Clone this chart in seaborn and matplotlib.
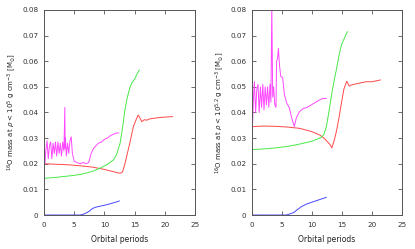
import matplotlib
matplotlib.use("Agg")
import matplotlib.pyplot as plt
import seaborn as sns
import numpy as np

# ---------------- data ----------------
L_red_x = [0, 2, 4, 6, 8, 10, 11, 12, 12.6, 13, 13.4, 13.8, 14.2, 14.8, 15.3, 15.6, 15.9, 16.2, 16.6, 17, 17.5, 18, 19, 20, 21.3]
L_red_y = [0.0200, 0.0198, 0.0196, 0.0192, 0.0187, 0.0178, 0.0172, 0.0166, 0.0163, 0.0168, 0.0200, 0.0240, 0.0280, 0.0345, 0.0375, 0.0390, 0.0378, 0.0364, 0.0372, 0.0370, 0.0375, 0.0377, 0.0380, 0.0382, 0.0384]

L_green_x = [0, 2, 4, 6, 8, 9.3, 10.5, 11.5, 12, 12.6, 13, 13.4, 13.8, 14.2, 14.5, 15, 15.4, 15.8]
L_green_y = [0.0143, 0.0147, 0.0152, 0.0158, 0.0170, 0.0183, 0.0198, 0.0215, 0.0235, 0.0280, 0.0340, 0.0410, 0.0460, 0.0495, 0.0514, 0.0530, 0.0550, 0.0566]

L_mag_x = [0, 0.15, 0.3, 0.5, 0.7, 0.9, 1.1, 1.3, 1.5, 1.7, 1.9, 2.1, 2.3, 2.5, 2.7, 2.9, 3.1, 3.3, 3.45, 3.5, 3.55, 3.7, 3.9, 4.1, 4.3, 4.5, 4.7, 5.0, 5.4, 6.0, 6.5, 7.0, 7.4, 7.8, 8.2, 8.6, 9.0, 9.5, 10.0, 10.5, 11.0, 11.5, 12.0, 12.4]
L_mag_y = [0.026, 0.020, 0.025, 0.029, 0.022, 0.027, 0.0285, 0.022, 0.028, 0.024, 0.0285, 0.023, 0.0285, 0.024, 0.028, 0.023, 0.0285, 0.025, 0.042, 0.026, 0.030, 0.023, 0.028, 0.024, 0.029, 0.0305, 0.024, 0.021, 0.0205, 0.0200, 0.0205, 0.0200, 0.0205, 0.024, 0.026, 0.027, 0.028, 0.0285, 0.0295, 0.030, 0.031, 0.0315, 0.032, 0.032]

L_blue_x = [0, 2, 4, 6, 6.5, 7, 7.5, 8, 8.5, 9, 10, 11, 12, 12.5]
L_blue_y = [0, 0, 0, 0, 0.0003, 0.0008, 0.0015, 0.0025, 0.0030, 0.0033, 0.0038, 0.0044, 0.0051, 0.0055]

R_red_x = [0, 2, 4, 6, 8, 10, 11.3, 12, 12.6, 13.0, 13.3, 13.5, 13.8, 14.1, 14.5, 14.9, 15.3, 15.6, 15.8, 16.0, 16.2, 16.6, 17, 18, 19, 20, 21.4]
R_red_y = [0.0345, 0.0347, 0.0346, 0.0343, 0.0338, 0.0325, 0.0312, 0.0300, 0.0285, 0.0275, 0.0262, 0.0275, 0.0300, 0.0330, 0.0380, 0.0436, 0.0490, 0.0510, 0.0522, 0.0512, 0.0503, 0.0508, 0.0510, 0.0515, 0.0520, 0.0520, 0.0527]

R_green_x = [0, 2, 4, 6, 8, 10, 11.5, 12.0, 12.4, 12.8, 13.2, 13.6, 14.0, 14.4, 14.7, 15.0, 15.4, 15.9]
R_green_y = [0.0255, 0.0258, 0.0262, 0.0268, 0.0277, 0.0288, 0.0302, 0.0315, 0.0345, 0.0400, 0.0460, 0.0514, 0.0560, 0.0610, 0.0644, 0.0670, 0.0690, 0.0716]

R_mag_x = [0, 0.1, 0.25, 0.4, 0.6, 0.8, 1.0, 1.2, 1.4, 1.6, 1.8, 2.0, 2.2, 2.4, 2.6, 2.8, 3.0, 3.15, 3.3, 3.45, 3.6, 3.8, 4.0, 4.1, 4.25, 4.4, 4.6, 4.8, 5.1, 5.4, 5.8, 6.2, 6.6, 7.05, 7.4, 7.9, 8.5, 9.2, 9.9, 10.6, 11.2, 11.8, 12.4]
R_mag_y = [0.044, 0.036, 0.046, 0.052, 0.040, 0.049, 0.051, 0.040, 0.050, 0.042, 0.051, 0.041, 0.050, 0.043, 0.050, 0.042, 0.051, 0.044, 0.082, 0.046, 0.050, 0.043, 0.042, 0.060, 0.061, 0.065, 0.058, 0.054, 0.0537, 0.047, 0.0436, 0.042, 0.038, 0.0345, 0.038, 0.0403, 0.0415, 0.042, 0.043, 0.044, 0.0448, 0.0455, 0.0455]

R_blue_x = [0, 2, 4, 5.7, 6.3, 7, 7.5, 8.2, 9, 10, 11, 12.4]
R_blue_y = [0, 0, 0, 0, 0.0004, 0.0010, 0.0020, 0.0032, 0.0042, 0.0050, 0.0058, 0.0069]

x_ticks = [0, 5, 10, 15, 20, 25]
y_ticks = [0, 0.01, 0.02, 0.03, 0.04, 0.05, 0.06, 0.07, 0.08]
y_tick_labels = ["0", "0.01", "0.02", "0.03", "0.04", "0.05", "0.06", "0.07", "0.08"]
xlabel = "Orbital periods"
ylabel_left = r"$^{16}$O mass at $\rho$ < 10$^{5}$ g cm$^{-3}$ [M$_{\odot}$]"
ylabel_right = r"$^{16}$O mass at $\rho$ < 10$^{5.2}$ g cm$^{-3}$ [M$_{\odot}$]"

# ---------------- style ----------------
sns.set_theme(style="ticks")
plt.rcParams['font.family'] = ['DejaVu Sans']
plt.rcParams['mathtext.fontset'] = 'dejavusans'

C_RED = "#ff4848"
C_GREEN = "#48e848"
C_BLUE = "#4848ff"
C_MAG = "#ff48ff"
LW = 0.7

fig = plt.figure(figsize=(4.15, 2.49), dpi=100)
W, H = 415.0, 249.0
axL = fig.add_axes([44 / W, 34 / H, 151 / W, 205 / H])
axR = fig.add_axes([252 / W, 34 / H, 150 / W, 205 / H])

panels = [
    (axL, (L_red_x, L_red_y), (L_green_x, L_green_y), (L_mag_x, L_mag_y), (L_blue_x, L_blue_y), ylabel_left),
    (axR, (R_red_x, R_red_y), (R_green_x, R_green_y), (R_mag_x, R_mag_y), (R_blue_x, R_blue_y), ylabel_right),
]

for ax, red, green, mag, blue, ylab in panels:
    for (xs, ys), col in [(red, C_RED), (green, C_GREEN), (mag, C_MAG), (blue, C_BLUE)]:
        sns.lineplot(x=xs, y=ys, ax=ax, color=col, linewidth=LW, estimator=None, sort=False)
    ax.set_xlim(0, 25)
    ax.set_ylim(0, 0.08)
    ax.set_xticks(x_ticks)
    ax.set_yticks(y_ticks)
    ax.set_yticklabels(y_tick_labels)
    ax.tick_params(direction="in", length=3, width=0.5, labelsize=5.2, colors="#333333",
                   top=True, right=True)
    ax.tick_params(axis="x", pad=5)
    ax.tick_params(axis="y", pad=4)
    for sp in ax.spines.values():
        sp.set_linewidth(0.7)
        sp.set_color("#555555")
    ax.set_xlabel(xlabel, fontsize=5.5, labelpad=5, color="#222222")
    ax.set_ylabel(ylab, fontsize=5.0, labelpad=3, color="#222222")

fig.savefig("out.png", dpi=100)
